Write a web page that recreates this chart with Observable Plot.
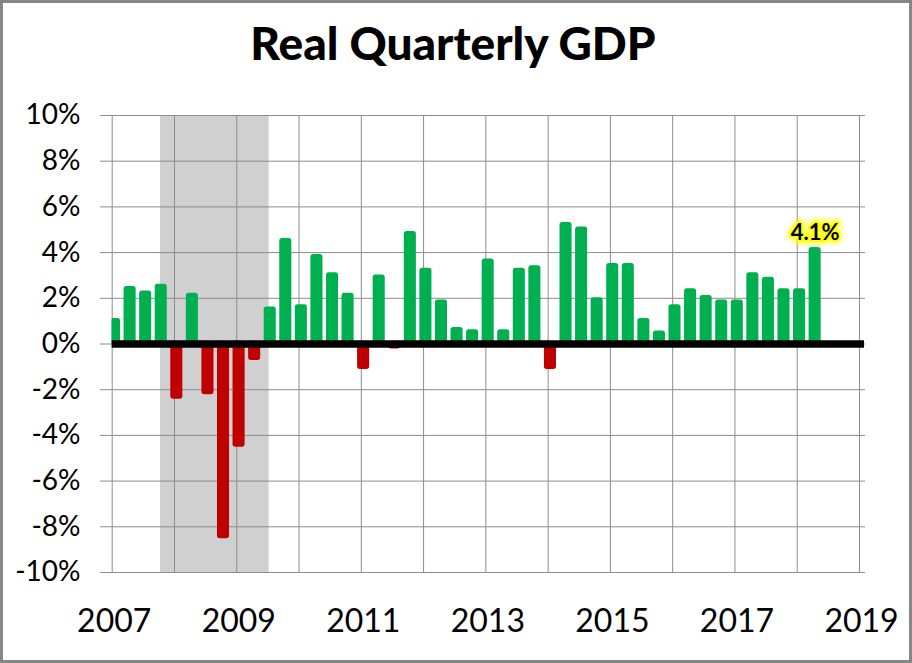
<!DOCTYPE html>
<html>
<head>
<meta charset="utf-8">
<script src="https://cdn.jsdelivr.net/npm/d3@7"></script>
<script src="https://cdn.jsdelivr.net/npm/@observablehq/plot@0.6"></script>
<style>
  html, body { margin: 0; padding: 0; background: #fff; }
  #wrap { position: relative; width: 912px; height: 663px; overflow: hidden; background: #fff; }
  #title { position: absolute; left: 0; top: 20px; width: 906px; text-align: center;
           font-family: Lato, "Open Sans", sans-serif; font-weight: 900; font-size: 46px;
           line-height: 46px; color: #000; }
  #chart { position: absolute; left: 0; top: 0; }
  #border { position: absolute; left: 0; top: 0; width: 912px; height: 663px;
            box-sizing: border-box; border: 3px solid #878787; pointer-events: none; }
</style>
</head>
<body>
<div id="wrap">
  <div id="chart"></div>
  <div id="title">Real Quarterly GDP</div>
  <div id="border"></div>
</div>
<script>
// Quarterly real GDP growth (annualized, %), 2007Q1 – 2018Q2
const quarters = [
  "2007Q1","2007Q2","2007Q3","2007Q4",
  "2008Q1","2008Q2","2008Q3","2008Q4",
  "2009Q1","2009Q2","2009Q3","2009Q4",
  "2010Q1","2010Q2","2010Q3","2010Q4",
  "2011Q1","2011Q2","2011Q3","2011Q4",
  "2012Q1","2012Q2","2012Q3","2012Q4",
  "2013Q1","2013Q2","2013Q3","2013Q4",
  "2014Q1","2014Q2","2014Q3","2014Q4",
  "2015Q1","2015Q2","2015Q3","2015Q4",
  "2016Q1","2016Q2","2016Q3","2016Q4",
  "2017Q1","2017Q2","2017Q3","2017Q4",
  "2018Q1","2018Q2"
];
const growth = [
  1.0, 2.4, 2.2, 2.5,
  -2.3, 2.1, -2.1, -8.4,
  -4.4, -0.6, 1.5, 4.5,
  1.6, 3.8, 3.0, 2.1,
  -1.0, 2.9, -0.1, 4.8,
  3.2, 1.8, 0.6, 0.5,
  3.6, 0.5, 3.2, 3.3,
  -1.0, 5.2, 5.0, 1.9,
  3.4, 3.4, 1.0, 0.45,
  1.6, 2.3, 2.0, 1.8,
  1.8, 3.0, 2.8, 2.3,
  2.3, 4.1
];
const recession = [{start: 2007.775, end: 2009.52}];
const yTicks = [-10, -8, -6, -4, -2, 0, 2, 4, 6, 8, 10];
const gridYears = [2007, 2008, 2009, 2010, 2011, 2012, 2013, 2014, 2015, 2016, 2017, 2018, 2019];
const labelYears = [2007, 2009, 2011, 2013, 2015, 2017, 2019];
const highlightQuarter = "2018Q2";

const GREEN = "#00B050", RED = "#C00000";

// position of each quarter's bar (decimal year, bars sit just after quarter start)
const data = quarters.map((q, i) => {
  const yr = +q.slice(0, 4), qq = +q.slice(5);
  const c = yr + (qq - 1) / 4 + 0.0375;
  return {q, v: growth[i], x1: c - 0.125, x2: c + 0.125, c};
});
const hl = data.filter(d => d.q === highlightQuarter);

const chart = Plot.plot({
  width: 912,
  height: 663,
  marginLeft: 111.7,
  marginRight: 53,
  marginTop: 115,
  marginBottom: 91,
  style: {fontFamily: "Lato, 'Open Sans', sans-serif", fontSize: "28px", color: "#000", background: "transparent", overflow: "visible"},
  x: {domain: [2007, 2019], axis: null},
  y: {domain: [-10, 10], axis: null},
  marks: [
    Plot.rect(recession, {x1: "start", x2: "end", y1: -10, y2: 10, fill: "#D0D0D0"}),
    Plot.ruleX(gridYears, {x: d => d, y1: -10, y2: 10, stroke: "#8C8C8C", strokeWidth: 1}),
    Plot.ruleY(yTicks, {y: d => d, x1: 2006.812, x2: 2019.096, stroke: "#8C8C8C", strokeWidth: 1}),
    Plot.rect(data.filter(d => d.v >= 0), {
      x1: "x1", x2: "x2", y1: 0, y2: "v", insetLeft: 4.5, insetRight: 4.5,
      fill: GREEN, stroke: GREEN, strokeWidth: 5.5, strokeLinejoin: "round", clip: true
    }),
    Plot.rect(data.filter(d => d.v < 0), {
      x1: "x1", x2: "x2", y1: 0, y2: "v", insetLeft: 4.5, insetRight: 4.5,
      fill: RED, stroke: RED, strokeWidth: 5.5, strokeLinejoin: "round", clip: true
    }),
    Plot.ruleY([0], {x1: 2007, x2: 2019.08, stroke: "#000", strokeWidth: 7.7}),
    Plot.axisY(yTicks, {tickSize: 0, tickPadding: 31.7, tickFormat: d => d + "%", fontSize: 28, label: null}),
    Plot.axisX(labelYears, {tickSize: 0, tickPadding: 37, tickFormat: d => String(d), fontSize: 32, label: null, dx: 2}),
    Plot.text(hl, {x: "c", y: "v", dy: -17, text: d => d.v.toFixed(1) + "%",
      fontSize: 22, fontWeight: "bold", fill: "#FFFF00", stroke: "#FFFF00", strokeWidth: 9,
      strokeLinejoin: "round", strokeOpacity: 0.55, imageFilter: "blur(2px)"}),
    Plot.text(hl, {x: "c", y: "v", dy: -17, text: d => d.v.toFixed(1) + "%",
      fontSize: 22, fontWeight: "bold", fill: "#000", stroke: "#FFFF00", strokeWidth: 4,
      strokeLinejoin: "round", paintOrder: "stroke"})
  ]
});
document.getElementById("chart").appendChild(chart);
</script>
</body>
</html>
